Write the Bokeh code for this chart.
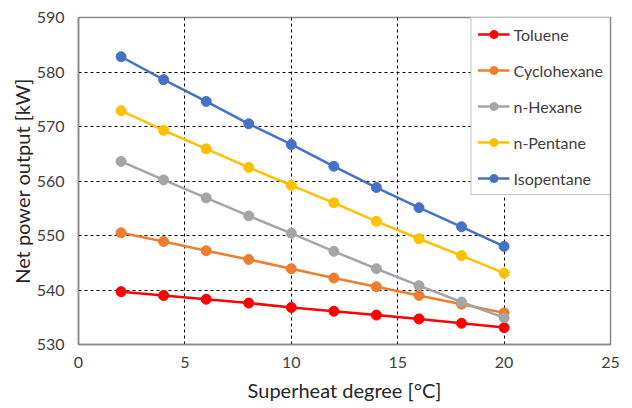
from bokeh.plotting import figure
from bokeh.models import Range1d, Legend, LegendItem, FixedTicker
from bokeh.embed import file_html
from bokeh.resources import INLINE

x = [2, 4, 6, 8, 10, 12, 14, 16, 18, 20]
toluene = [539.7, 539.0, 538.3, 537.6, 536.8, 536.1, 535.4, 534.7, 533.9, 533.1]
cyclohexane = [550.5, 548.9, 547.2, 545.6, 543.9, 542.2, 540.6, 539.0, 537.4, 535.8]
n_hexane = [563.6, 560.2, 556.9, 553.6, 550.4, 547.1, 543.9, 540.8, 537.8, 534.9]
n_pentane = [572.9, 569.3, 565.9, 562.5, 559.2, 556.0, 552.6, 549.4, 546.3, 543.1]
isopentane = [582.8, 578.6, 574.6, 570.5, 566.7, 562.7, 558.8, 555.1, 551.6, 548.0]

names = ["Toluene", "Cyclohexane", "n-Hexane", "n-Pentane", "Isopentane"]
series = [toluene, cyclohexane, n_hexane, n_pentane, isopentane]
colors = ["#FF0000", "#ED7D31", "#A5A5A5", "#FFC000", "#4472C4"]

x_ticks = [0, 5, 10, 15, 20, 25]
y_ticks = [530, 540, 550, 560, 570, 580, 590]

FONT = "Lato"
TXT = "#404040"

p = figure(width=624, height=406, output_backend="svg", toolbar_location=None,
           x_range=Range1d(0, 25), y_range=Range1d(530, 590),
           min_border_left=78, min_border_right=14, min_border_top=17, min_border_bottom=62)
p.background_fill_color = "white"
p.border_fill_color = "white"
p.outline_line_color = "#898989"
p.outline_line_width = 1.5

for ax in (p.xaxis[0], p.yaxis[0]):
    ax.axis_line_color = "#898989"
    ax.axis_line_width = 1.5
    ax.major_tick_line_color = None
    ax.minor_tick_line_color = None
    ax.major_tick_out = 0
    ax.major_tick_in = 0
    ax.minor_tick_out = 0
    ax.minor_tick_in = 0
    ax.major_label_text_font = FONT
    ax.major_label_text_font_size = "16px"
    ax.major_label_text_color = TXT
    ax.axis_label_text_font = FONT
    ax.axis_label_text_font_size = "20px"
    ax.axis_label_text_font_style = "normal"
    ax.axis_label_text_color = "#262626"

p.xaxis.ticker = FixedTicker(ticks=x_ticks)
p.yaxis.ticker = FixedTicker(ticks=y_ticks)
p.xaxis.axis_label = "Superheat degree [°C]"
p.yaxis.axis_label = "Net power output [kW]"
p.xaxis.major_label_standoff = 12
p.yaxis.major_label_standoff = 14
p.xaxis.axis_label_standoff = 7
p.yaxis.axis_label_standoff = 0

for g in (p.xgrid[0], p.ygrid[0]):
    g.grid_line_color = "black"
    g.grid_line_dash = "3 3"
    g.grid_line_width = 1

items = []
for name, ys, c in zip(names, series, colors):
    l = p.line(x, ys, line_color=c, line_width=2.5)
    s = p.scatter(x, ys, size=10, fill_color=c, line_color=c)
    items.append(LegendItem(label=name, renderers=[l, s]))

legend = Legend(items=items, location="top_right")
legend.label_text_font = FONT
legend.label_text_font_size = "16px"
legend.label_text_color = TXT
legend.glyph_width = 32
legend.glyph_height = 20
legend.label_height = 20
legend.spacing = 16
legend.padding = 6
legend.margin = 0
legend.label_standoff = 4
legend.border_line_color = "#898989"
legend.border_line_width = 1.5
legend.background_fill_color = "white"
legend.background_fill_alpha = 1
p.add_layout(legend, "center")

open("out.html", "w").write(file_html(p, INLINE))
